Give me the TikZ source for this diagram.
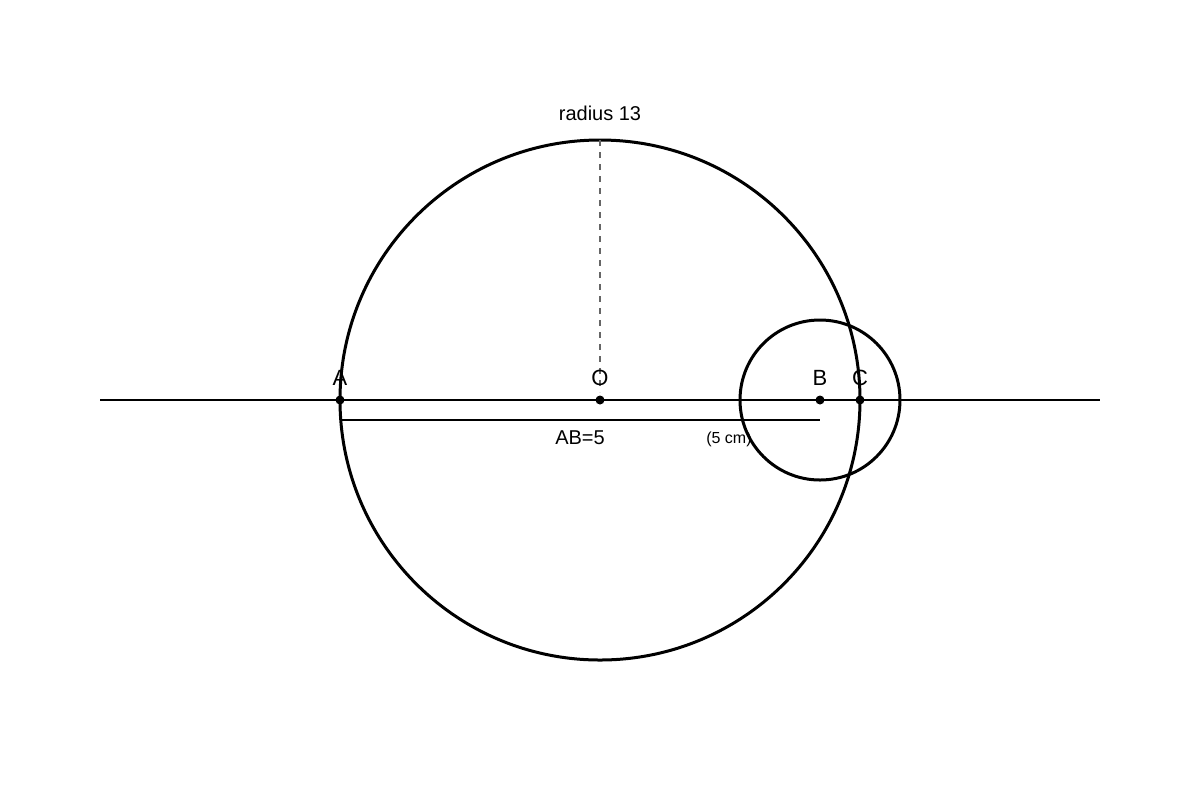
\documentclass[tikz,border=0pt]{standalone}
\usepackage{fontspec}
\setmainfont{Liberation Sans}
\begin{document}
\begin{tikzpicture}[x=0.5pt,y=-0.5pt]
        \tikzstyle{pt} = [circle, fill=black, inner sep=0pt, minimum size=4.5pt]
        \tikzstyle{lbl} = [font=\fontsize{10}{12}\selectfont, inner sep=0pt]

		\useasboundingbox (0,0) rectangle (1200,800);

		% points on the line
		\coordinate (L) at (100,400);
		\coordinate (R) at (1100,400);
		\node[pt] (A) at (340,400) {};
		\node[pt] (O) at (600,400) {};
		\node[pt] (B) at (820,400) {};
		\node[pt] (C) at (860,400) {};

		\draw[line width=1pt] (L) -- (R);
		\draw[line width=1.5pt] (O) circle (260);
		\draw[line width=1.5pt] (B) circle (80);

		% radius
		\coordinate (T) at (600,140);
		\coordinate (Tb) at (600,392);
		\draw[gray!80!black, dashed, line width=0.6pt] (T) -- (Tb);
		\node[lbl] (rad) at (600,113) {radius 13};

		% segment AB
		\coordinate (A1) at (340,420);
		\coordinate (B1) at (820,420);
		\draw[line width=1pt] (A1) -- (B1);
		\node[lbl] (ab) at (580,438) {AB=5};
		\node[lbl, font=\fontsize{8}{10}\selectfont] (cm) at (729,439) {(5 cm)};

		% labels
		\node[lbl, font=\fontsize{11}{13}\selectfont] (la) at (340,378) {A};
		\node[lbl, font=\fontsize{11}{13}\selectfont] (lo) at (600,378) {O};
		\node[lbl, font=\fontsize{11}{13}\selectfont] (lb) at (820,378) {B};
		\node[lbl, font=\fontsize{11}{13}\selectfont] (lc) at (860,378) {C};

    \end{tikzpicture}
\end{document}
